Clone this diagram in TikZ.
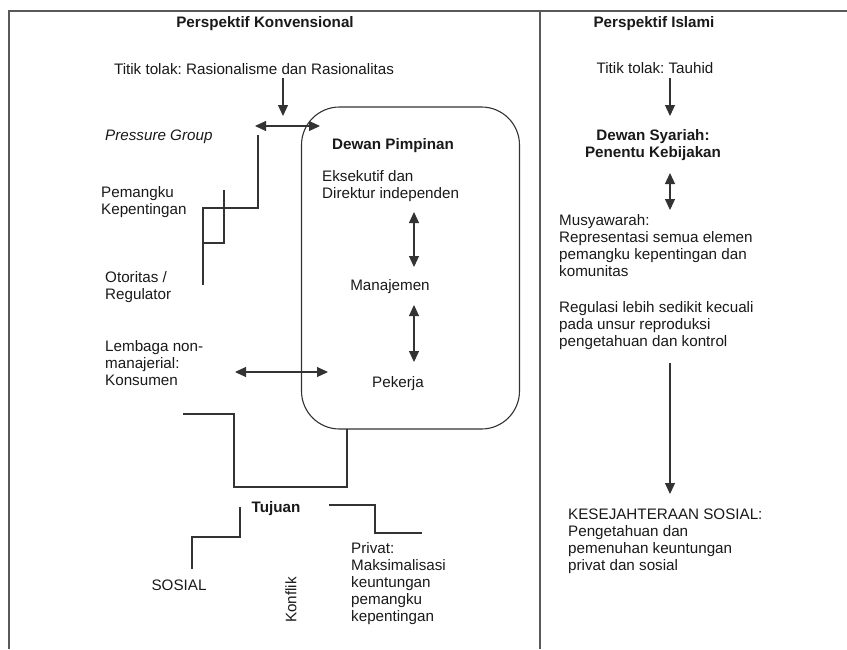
\documentclass[tikz,border=0pt]{standalone}
\usepackage{fontspec}
\setmainfont{Liberation Sans}
\usetikzlibrary{arrows.meta}
\frenchspacing
\begin{document}
\begin{tikzpicture}[x=1pt,y=-1pt,
  txt/.style={inner sep=0pt,font=\fontsize{15.2}{17.2}\selectfont,text=black!90,align=left},
  btxt/.style={txt,font=\fontsize{15.2}{17.2}\selectfont\bfseries},
  frame/.style={draw=black!65,line width=1.5pt},
  conn/.style={draw=black!80,line width=1.1pt},
  arr/.style={conn,-{Triangle[length=11pt,width=10pt]}},
  darr/.style={conn,{Triangle[length=11pt,width=10pt]}-{Triangle[length=11pt,width=10pt]}}]
\useasboundingbox (0,0) rectangle (847,649);
% frame
\coordinate (tl) at (9,11);
\coordinate (tr) at (847,11);
\coordinate (bl) at (9,649);
\coordinate (dt) at (540,11);
\coordinate (db) at (540,649);
\draw[frame] (bl) -- (tl) -- (tr);
\draw[frame] (dt) -- (db);
% titles (multi-line nodes are placed by the baseline of their last line)
\node[btxt,anchor=base] (t1) at (265,27) {Perspektif Konvensional};
\node[btxt,anchor=base] (t2) at (654,27) {Perspektif Islami};
% left side
\node[txt,anchor=base] (titik) at (254,74) {Titik tolak: Rasionalisme dan Rasionalitas};
\coordinate (a1s) at (283,78);
\coordinate (a1e) at (283,116);
\draw[arr] (a1s) -- (a1e);
\coordinate (h1s) at (255,126);
\coordinate (h1e) at (320,126);
\draw[darr] (h1s) -- (h1e);
\node[txt,anchor=base west,font=\fontsize{15.2}{17.2}\selectfont\itshape] (pg) at (105,140) {Pressure Group};
\node[txt,anchor=base west] (pk) at (101,214.2) {Pemangku\\Kepentingan};
\node[txt,anchor=base west] (ot) at (105,299.2) {Otoritas /\\Regulator};
\node[txt,anchor=base west] (lb) at (105,385.4) {Lembaga non-\\manajerial:\\Konsumen};
% step lines
\coordinate (s1) at (258,135);
\coordinate (s2) at (258,208);
\coordinate (s3) at (203,208);
\coordinate (s4) at (203,285);
\draw[conn] (s1) -- (s2) -- (s3) -- (s4);
\coordinate (s5) at (224,190);
\coordinate (s6) at (224,243);
\coordinate (s7) at (203,243);
\draw[conn] (s5) -- (s6) -- (s7);
% box
\node[draw=black!80,line width=1.1pt,rounded corners=38pt,minimum width=218pt,minimum height=322pt,inner sep=0pt] (box) at (410.5,268) {};
\node[btxt,anchor=base] (dp) at (393,149) {Dewan Pimpinan};
\node[txt,anchor=base west] (ek) at (322,198.2) {Eksekutif dan\\Direktur independen};
\node[txt,anchor=base] (mj) at (390,290) {Manajemen};
\node[txt,anchor=base] (pj) at (398,387) {Pekerja};
\coordinate (v1s) at (414,212);
\coordinate (v1e) at (414,267);
\draw[darr] (v1s) -- (v1e);
\coordinate (v2s) at (414,305);
\coordinate (v2e) at (414,362);
\draw[darr] (v2s) -- (v2e);
\coordinate (h2s) at (235,372);
\coordinate (h2e) at (328,372);
\draw[darr] (h2s) -- (h2e);
% lines to Tujuan
\coordinate (b1) at (347,429);
\coordinate (b2) at (347,487);
\coordinate (b3) at (234,487);
\coordinate (b4) at (234,414);
\coordinate (b5) at (183,414);
\draw[conn] (b1) -- (b2) -- (b3) -- (b4) -- (b5);
\node[btxt,anchor=base] (tj) at (276,512) {Tujuan};
\coordinate (c1) at (240,507);
\coordinate (c2) at (240,537);
\coordinate (c3) at (192,537);
\coordinate (c4) at (192,569);
\draw[conn] (c1) -- (c2) -- (c3) -- (c4);
\coordinate (d1) at (329,505);
\coordinate (d2) at (375,505);
\coordinate (d3) at (375,533);
\coordinate (d4) at (422,533);
\draw[conn] (d1) -- (d2) -- (d3) -- (d4);
\node[txt,anchor=base] (so) at (179,590) {SOSIAL};
\node[txt,rotate=90] (kf) at (291,600) {Konflik};
\node[txt,anchor=base west] (pv) at (351,621.8) {Privat:\\Maksimalisasi\\keuntungan\\pemangku\\kepentingan};
% right side
\node[txt,anchor=base] (tt) at (655,73) {Titik tolak: Tauhid};
\coordinate (r1s) at (670,78);
\coordinate (r1e) at (670,116);
\draw[arr] (r1s) -- (r1e);
\node[btxt,anchor=base,align=center] (ds) at (653,157.2) {Dewan Syariah:\\Penentu Kebijakan};
\coordinate (r2s) at (670,173);
\coordinate (r2e) at (670,210);
\draw[darr] (r2s) -- (r2e);
\node[txt,anchor=base west] (mu) at (559,276.6) {Musyawarah:\\Representasi semua elemen\\pemangku kepentingan dan\\komunitas};
\node[txt,anchor=base west] (rg) at (559,346.4) {Regulasi lebih sedikit kecuali\\pada unsur reproduksi\\pengetahuan dan kontrol};
\coordinate (r3s) at (670,363);
\coordinate (r3e) at (670,494);
\draw[arr] (r3s) -- (r3e);
\node[txt,anchor=base west] (ks) at (568,570.6) {KESEJAHTERAAN SOSIAL:\\Pengetahuan dan\\pemenuhan keuntungan\\privat dan sosial};
\end{tikzpicture}
\end{document}
